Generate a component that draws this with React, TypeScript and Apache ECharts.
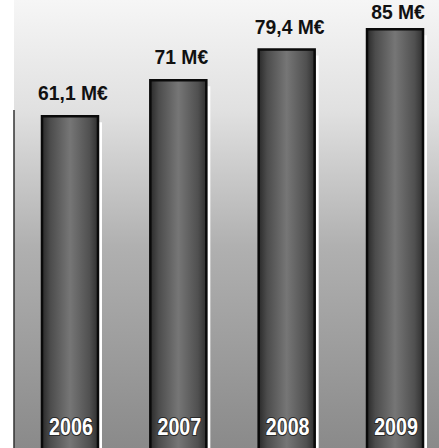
import React, { useEffect, useRef } from "react";
import * as echarts from "echarts";

const years = ["2006", "2007", "2008", "2009"];
const values = [61.1, 71, 79.4, 85];
const valueLabels = values.map((v) => `${String(v).replace(".", ",")} M€`);
const Y_MIN = -30;
const Y_MAX = 93;
const X_MIN = -0.646;
const X_MAX = 3.406;

export default function App() {
  const ref = useRef<HTMLDivElement>(null);
  useEffect(() => {
    if (!ref.current) return;
    const chart = echarts.init(ref.current, null, { renderer: "svg" });
    const barFill = new echarts.graphic.LinearGradient(0, 0, 1, 0, [
      { offset: 0, color: "#2a2a2a" },
      { offset: 0.15, color: "#4c4c4c" },
      { offset: 0.5, color: "#767676" },
      { offset: 0.85, color: "#505050" },
      { offset: 1, color: "#303030" },
    ]);
    chart.setOption({
      animation: false,
      backgroundColor: "#ffffff",
      graphic: [
        {
          type: "rect",
          z: -10,
          shape: { x: 14, y: 0, width: 425, height: 448 },
          style: {
            fill: new echarts.graphic.LinearGradient(0, 0, 0, 1, [
              { offset: 0, color: "#f6f6f6" },
              { offset: 0.25, color: "#e0e0e0" },
              { offset: 0.55, color: "#b0b0b0" },
              { offset: 1, color: "#8a8a8a" },
            ]),
          },
        },
        {
          type: "line",
          z: -9,
          shape: { x1: 14, y1: 110, x2: 14, y2: 448 },
          style: { stroke: "#333", lineWidth: 1.5 },
        },
      ],
      grid: { left: 0, top: 0, right: 0, bottom: 0 },
      xAxis: {
        type: "value",
        min: X_MIN,
        max: X_MAX,
        show: false,
      },
      yAxis: {
        type: "value",
        min: Y_MIN,
        max: Y_MAX,
        show: false,
      },
      series: [
        {
          type: "custom",
          clip: false,
          data: values.map((v, i) => [i, v]),
          renderItem: (params: any, api: any) => {
            const i = api.value(0);
            const v = api.value(1);
            const top = api.coord([i, v]);
            const base = api.coord([i, Y_MIN]);
            const bw = 56;
            const x0 = top[0] - bw / 2;
            const h = base[1] - top[1] + 2;
            return {
              type: "group",
              children: [
                {
                  type: "rect",
                  shape: { x: x0 + bw + 1, y: top[1] + 6, width: 3, height: h },
                  style: { fill: "#ffffff" },
                },
                {
                  type: "rect",
                  shape: { x: x0, y: top[1], width: bw, height: h },
                  style: { fill: barFill, stroke: "#0a0a0a", lineWidth: 2.5 },
                },
                {
                  type: "text",
                  x: top[0] + 3,
                  y: Math.max(top[1] - 23, 12),
                  scaleX: 0.92,
                  style: {
                    text: valueLabels[i],
                    fill: "#111",
                    font: 'bold 21px "Liberation Sans", Arial, sans-serif',
                    align: "center",
                    verticalAlign: "middle",
                  },
                },
                {
                  type: "text",
                  x: top[0] + 1,
                  y: base[1] - 21,
                  scaleX: 0.82,
                  style: {
                    text: years[i],
                    fill: "#ffffff",
                    stroke: "#2a2a2a",
                    lineWidth: 2,
                    font: 'bold 24px "Liberation Sans", Arial, sans-serif',
                    align: "center",
                    verticalAlign: "middle",
                  },
                },
              ],
            };
          },
        },
      ],
    });
    return () => chart.dispose();
  }, []);
  return (
    <div
      ref={ref}
      style={{ position: "absolute", left: 0, top: 0, width: 439, height: 448 }}
    />
  );
}
